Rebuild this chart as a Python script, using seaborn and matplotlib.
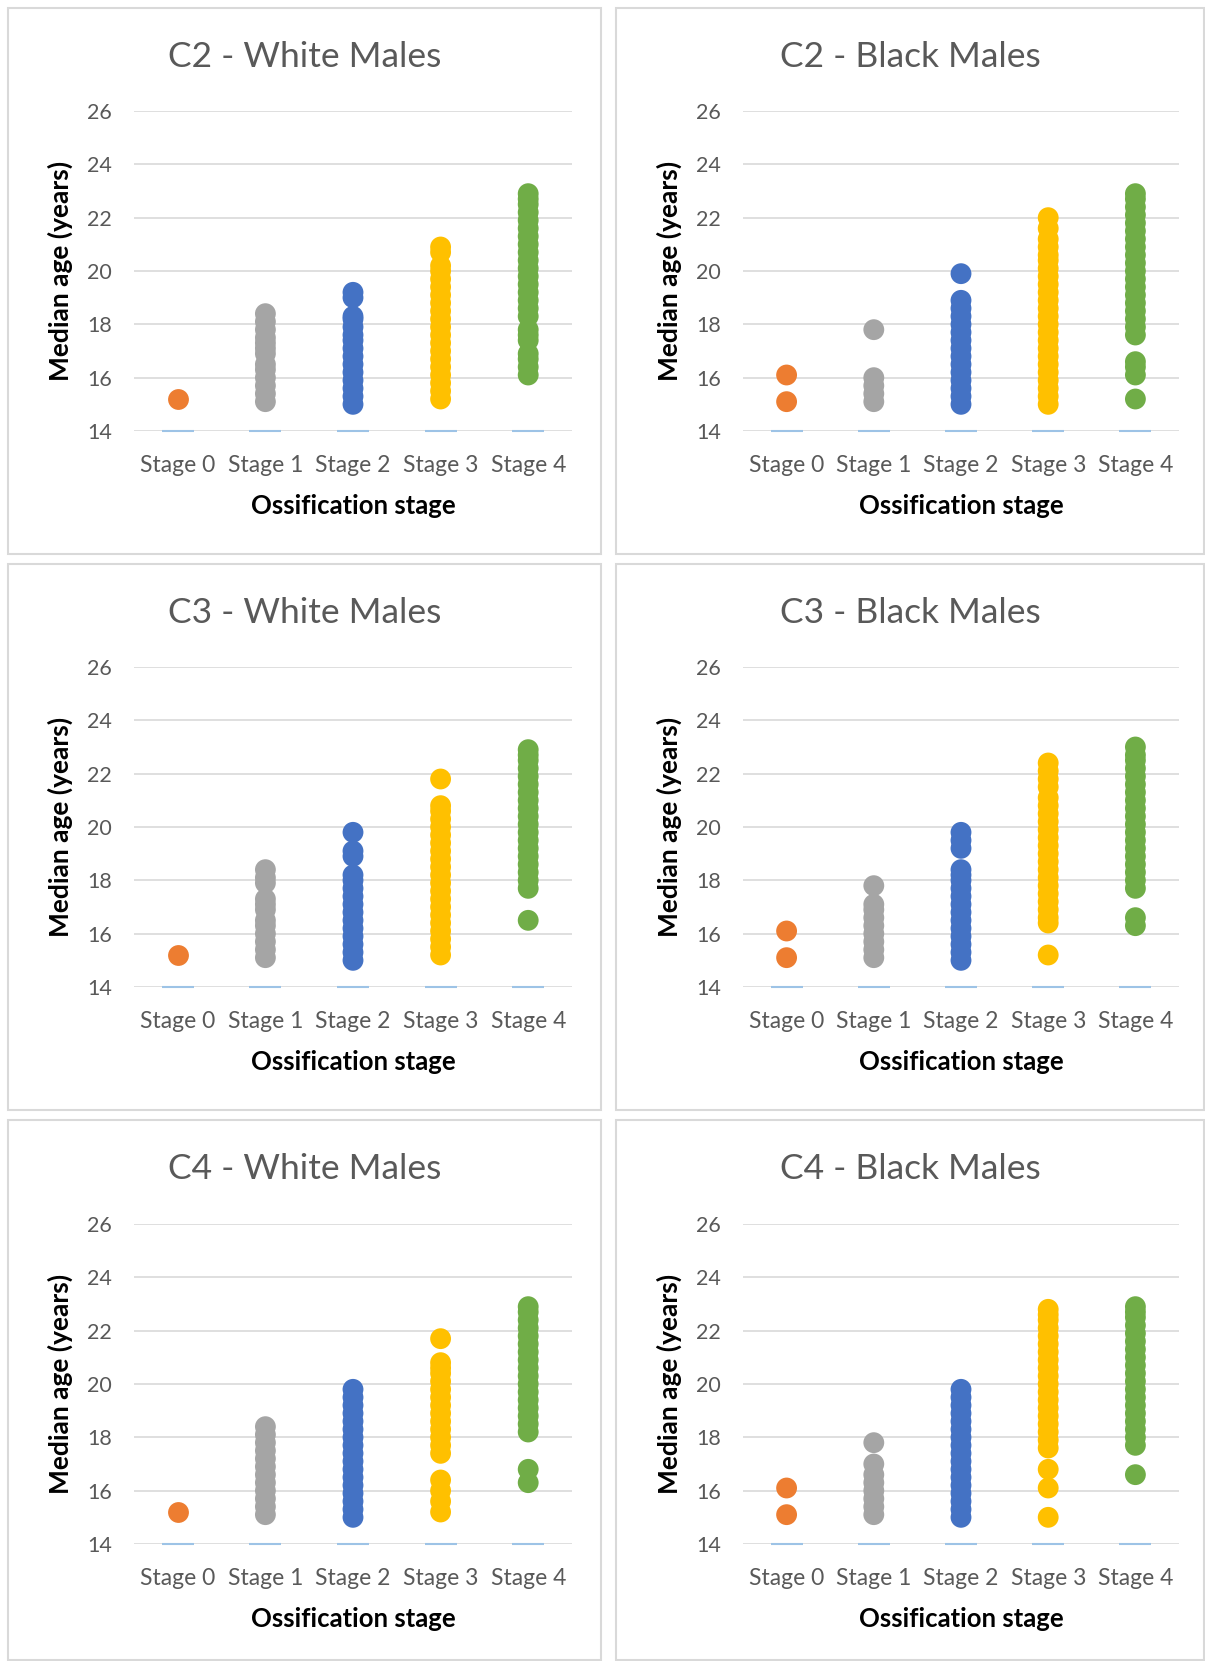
import matplotlib
matplotlib.use("Agg")
import matplotlib.pyplot as plt
from matplotlib.patches import Rectangle
import seaborn as sns
import pandas as pd

sns.set_theme(style="white")
plt.rcParams['font.family'] = ['Lato', 'DejaVu Sans']

stages = ['Stage 0', 'Stage 1', 'Stage 2', 'Stage 3', 'Stage 4']
colors = ['#ED7D31', '#A5A5A5', '#4472C4', '#FFC000', '#70AD47']
baseline = [14, 14, 14, 14, 14]

# median ages per stage
c2_white = [
    [15.2],
    [15.1, 15.4, 15.7, 16.0, 16.3, 16.5, 16.9, 17.1, 17.3, 17.5, 17.8, 18.1, 18.4],
    [15.0, 15.3, 15.6, 15.9, 16.2, 16.5, 16.8, 17.1, 17.4, 17.6, 17.9, 18.2, 18.3, 19.0, 19.2],
    [15.2, 15.5, 15.8, 16.1, 16.4, 16.7, 17.0, 17.3, 17.6, 17.9, 18.2, 18.5, 18.8, 19.1,
     19.4, 19.7, 20.0, 20.2, 20.7, 20.9],
    [16.1, 16.4, 16.7, 16.9, 17.4, 17.6, 17.8, 18.3, 18.6, 18.9, 19.2, 19.5, 19.8, 20.1,
     20.4, 20.7, 21.0, 21.3, 21.6, 21.9, 22.2, 22.5, 22.7, 22.9],
]
c2_black = [
    [15.1, 16.1],
    [15.1, 15.4, 15.7, 16.0, 17.8],
    [15.0, 15.3, 15.6, 15.9, 16.2, 16.5, 16.8, 17.1, 17.4, 17.7, 18.0, 18.3, 18.6, 18.9, 19.9],
    [15.0, 15.3, 15.6, 15.9, 16.2, 16.5, 16.8, 17.1, 17.4, 17.7, 18.0, 18.3, 18.6, 18.9,
     19.2, 19.5, 19.8, 20.1, 20.4, 20.6, 20.9, 21.2, 21.6, 22.0],
    [15.2, 16.1, 16.4, 16.6, 17.6, 17.9, 18.2, 18.5, 18.8, 19.1, 19.4, 19.7, 20.0, 20.3,
     20.6, 20.9, 21.2, 21.5, 21.8, 22.1, 22.4, 22.7, 22.9],
]
c3_white = [
    [15.2],
    [15.1, 15.4, 15.7, 16.0, 16.3, 16.5, 16.9, 17.1, 17.3, 17.9, 18.1, 18.4],
    [15.0, 15.3, 15.6, 15.9, 16.2, 16.5, 16.8, 17.1, 17.4, 17.7, 18.0, 18.2, 18.9, 19.1, 19.8],
    [15.2, 15.5, 15.8, 16.1, 16.4, 16.7, 17.0, 17.3, 17.6, 17.9, 18.2, 18.5, 18.8, 19.1,
     19.4, 19.7, 20.0, 20.3, 20.6, 20.8, 21.8],
    [16.5, 17.7, 18.0, 18.3, 18.6, 18.9, 19.2, 19.5, 19.8, 20.1, 20.4, 20.7, 21.0, 21.3,
     21.6, 21.9, 22.2, 22.5, 22.7, 22.9],
]
c3_black = [
    [15.1, 16.1],
    [15.1, 15.4, 15.7, 16.0, 16.3, 16.6, 16.9, 17.1, 17.8],
    [15.0, 15.3, 15.6, 15.9, 16.2, 16.5, 16.8, 17.1, 17.4, 17.7, 18.0, 18.2, 18.4, 19.2,
     19.5, 19.8],
    [15.2, 16.4, 16.6, 16.9, 17.2, 17.5, 17.8, 18.1, 18.4, 18.7, 19.0, 19.3, 19.6, 19.9,
     20.2, 20.5, 20.8, 21.1, 21.5, 21.8, 22.1, 22.4],
    [16.3, 16.6, 17.7, 18.0, 18.3, 18.6, 18.9, 19.2, 19.5, 19.8, 20.1, 20.4, 20.7, 21.0,
     21.3, 21.6, 21.9, 22.2, 22.5, 22.7, 23.0],
]
c4_white = [
    [15.2],
    [15.1, 15.4, 15.7, 16.0, 16.3, 16.6, 16.9, 17.2, 17.5, 17.8, 18.1, 18.4],
    [15.0, 15.3, 15.6, 15.9, 16.2, 16.5, 16.8, 17.1, 17.4, 17.7, 18.0, 18.3, 18.6, 18.9,
     19.2, 19.5, 19.8],
    [15.2, 15.6, 16.0, 16.4, 17.4, 17.7, 18.0, 18.3, 18.6, 18.9, 19.2, 19.5, 19.8, 20.1,
     20.4, 20.6, 20.8, 21.7],
    [16.3, 16.8, 18.2, 18.5, 18.8, 19.1, 19.4, 19.7, 20.0, 20.3, 20.6, 20.9, 21.2, 21.5,
     21.8, 22.1, 22.4, 22.7, 22.9],
]
c4_black = [
    [15.1, 16.1],
    [15.1, 15.4, 15.7, 16.0, 16.3, 16.6, 17.0, 17.8],
    [15.0, 15.3, 15.6, 15.9, 16.2, 16.5, 16.8, 17.1, 17.4, 17.7, 18.0, 18.3, 18.6, 18.9,
     19.2, 19.5, 19.8],
    [15.0, 16.1, 16.8, 17.6, 17.9, 18.2, 18.5, 18.8, 19.1, 19.4, 19.7, 20.0, 20.3, 20.6,
     20.9, 21.2, 21.5, 21.8, 22.1, 22.4, 22.6, 22.8],
    [16.6, 17.7, 18.0, 18.3, 18.6, 18.9, 19.2, 19.5, 19.8, 20.1, 20.4, 20.7, 21.0, 21.3,
     21.6, 21.9, 22.2, 22.5, 22.7, 22.9],
]

panels = [
    ('C2 - White Males', c2_white), ('C2 - Black Males', c2_black),
    ('C3 - White Males', c3_white), ('C3 - Black Males', c3_black),
    ('C4 - White Males', c4_white), ('C4 - Black Males', c4_black),
]

W, H = 1205, 1661
fig = plt.figure(figsize=(W / 100, H / 100), dpi=100)

box_x = [(8, 601), (616, 1204)]
box_y = [(8, 554), (564, 1110), (1120, 1660)]
ax_x = [(134, 572), (743, 1179)]
ax_y = [(111, 431), (667, 987), (1224, 1544)]

for i, (title, cols) in enumerate(panels):
    r, c = divmod(i, 2)
    bx0, bx1 = box_x[c]
    by0, by1 = box_y[r]
    fig.add_artist(Rectangle((bx0 / W, 1 - by1 / H), (bx1 - bx0) / W, (by1 - by0) / H,
                             transform=fig.transFigure, fill=False,
                             edgecolor='#D9D9D9', linewidth=1.5))
    x0, x1 = ax_x[c]
    y0, y1 = ax_y[r]
    ax = fig.add_axes([x0 / W, 1 - y1 / H, (x1 - x0) / W, (y1 - y0) / H])

    rows = []
    for stage, vals in zip(stages, cols):
        for v in vals:
            rows.append((stage, v))
    df = pd.DataFrame(rows, columns=['stage', 'age'])

    sns.stripplot(data=df, x='stage', y='age', hue='stage', order=stages,
                  hue_order=stages, palette=colors, jitter=False, size=15,
                  linewidth=0, legend=False, ax=ax, zorder=3)
    sns.scatterplot(x=stages, y=baseline, marker='_', s=500, color='#9DC3E6',
                    linewidth=1.5, ax=ax, zorder=4, clip_on=False)

    ax.set_xlim(-0.5, 4.5)
    ax.set_ylim(14, 26)
    ax.set_yticks([14, 16, 18, 20, 22, 24, 26])
    ax.yaxis.grid(True, color='#D9D9D9', linewidth=1.2)
    ax.xaxis.grid(False)
    ax.set_axisbelow(True)
    for s in ax.spines.values():
        s.set_visible(False)
    ax.tick_params(axis='both', length=0, labelcolor='#595959')
    ax.tick_params(axis='x', pad=17.5, labelsize=16.5)
    ax.tick_params(axis='y', pad=16, labelsize=15.5)
    ax.set_xlabel('Ossification stage', fontsize=18.5, fontweight='bold',
                  color='black', labelpad=13)
    ax.set_ylabel('Median age (years)', fontsize=19, fontweight='bold',
                  color='black', labelpad=10)
    fig.text((bx0 + bx1) / 2 / W, 1 - (by0 + 49) / H, title, ha='center', va='center',
             fontsize=25.5, color='#595959')

fig.savefig('out.png', dpi=100)
